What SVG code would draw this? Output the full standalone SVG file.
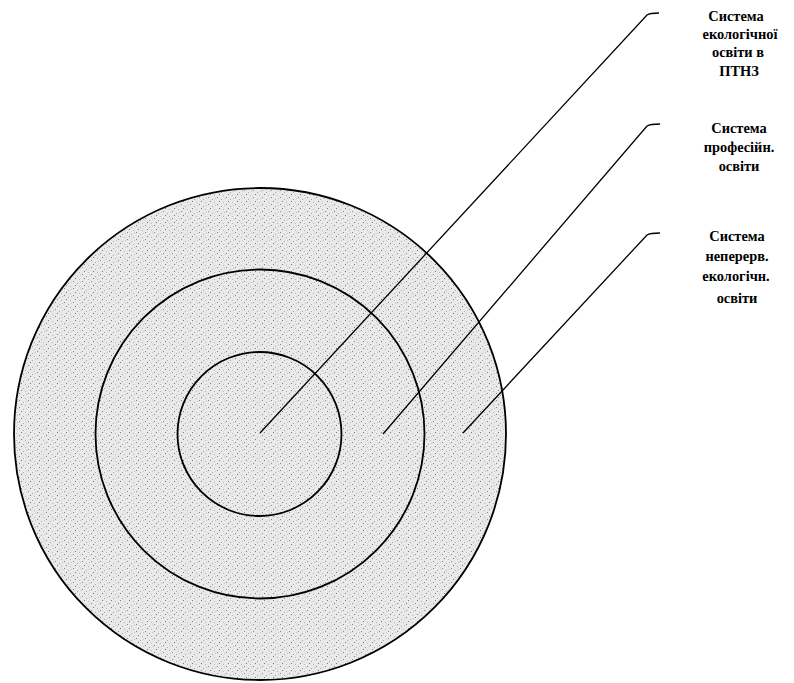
<svg xmlns="http://www.w3.org/2000/svg" width="794" height="683" viewBox="0 0 794 683">
<style>
.ring{stroke:#000;stroke-width:1.8;fill:url(#stip)}
.conn{stroke:#000;stroke-width:1.3;fill:none}
.lbl{font-family:"Liberation Serif","Times New Roman",serif;font-weight:bold;font-size:14.4px;fill:#000;text-anchor:middle}
</style>
<defs>
<pattern id="stip" width="9" height="7" patternUnits="userSpaceOnUse">
<rect width="9" height="7" fill="#e9e9e9"/>
<rect x="1" y="1" width="1" height="1" fill="#8a8a8a"/>
<rect x="5" y="3" width="1" height="1" fill="#a8a8a8"/>
<rect x="3" y="5" width="1" height="1" fill="#7a7a7a"/>
<rect x="7" y="6" width="1" height="1" fill="#b8b8b8"/>
<rect x="8" y="2" width="1" height="1" fill="#c4c4c4"/>
</pattern>
</defs>
<g id="outer"><circle class="ring" cx="260" cy="434" r="246"/></g>
<g id="middle"><circle class="ring" cx="260" cy="434" r="164.5"/></g>
<g id="inner"><circle class="ring" cx="259.5" cy="434" r="82"/></g>
<g id="connectors">
<path class="conn" d="M260,433 L647,15 Q650,13 659,13"/>
<path class="conn" d="M383,434 L647,126 Q650,124 660,124"/>
<path class="conn" d="M463,433 L647,235 Q650,233 660,233"/>
</g>
<g id="label1">
<text class="lbl" x="736" y="21">Система</text>
<text class="lbl" x="740" y="39">екологічної</text>
<text class="lbl" x="738" y="57">освіти в</text>
<text class="lbl" x="739" y="76">ПТНЗ</text>
</g>
<g id="label2">
<text class="lbl" x="739" y="133">Система</text>
<text class="lbl" x="739" y="152">професійн.</text>
<text class="lbl" x="739" y="171">освіти</text>
</g>
<g id="label3">
<text class="lbl" x="737" y="241">Система</text>
<text class="lbl" x="737" y="261">неперерв.</text>
<text class="lbl" x="736" y="281">екологічн.</text>
<text class="lbl" x="737" y="303">освіти</text>
</g>
</svg>
